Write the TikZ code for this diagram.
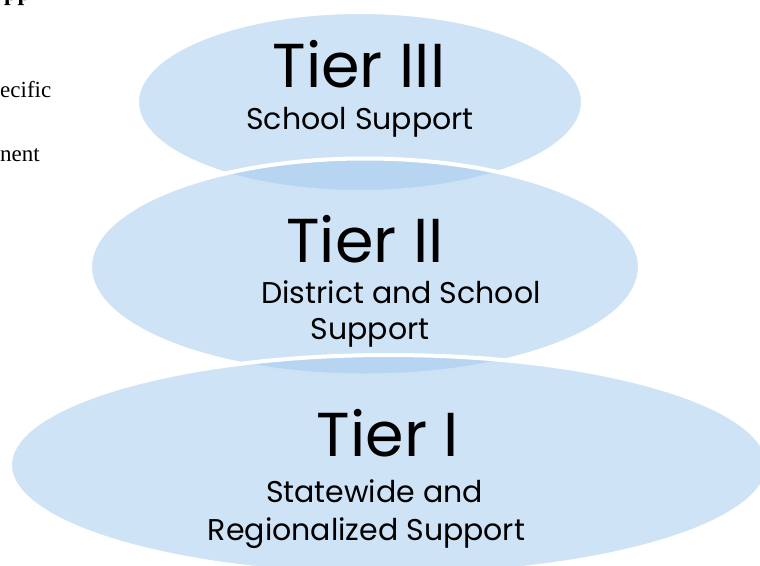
\documentclass[tikz,border=0pt]{standalone}
\usepackage{fontspec}
\setmainfont{Poppins}
\newfontfamily\serifside{Liberation Serif}
\usetikzlibrary{shapes.geometric}
\definecolor{tierblue}{RGB}{159,199,237}
\tikzset{
  tierell/.style={ellipse, inner sep=0pt, fill=tierblue, fill opacity=0.5, draw=white, draw opacity=1, line width=4pt},
  titletxt/.style={anchor=base, inner sep=0pt, font=\fontsize{62}{62}\selectfont},
  subtxt/.style={anchor=base, inner sep=0pt, font=\fontsize{30}{30}\selectfont},
  sidetxt/.style={anchor=base west, inner sep=0pt, font=\serifside\fontsize{23}{23}\selectfont},
}
\begin{document}
\begin{tikzpicture}[x=1pt,y=-1pt]
\useasboundingbox (0,0) rectangle (760,565);
% ellipses
\node[tierell, minimum width=446pt, minimum height=180pt] (t3) at (360,102) {};
\node[tierell, minimum width=550pt, minimum height=217pt] (t2) at (365,267) {};
\node[tierell, minimum width=758pt, minimum height=220pt] (t1) at (389,465) {};
% texts
\node[titletxt] (h3) at (359,87) {Tier III};
\node[subtxt] (s3) at (360,129) {School Support};
\node[titletxt] (h2) at (365,262) {Tier II};
\node[subtxt] (s2a) at (401,303) {District and School};
\node[subtxt] (s2b) at (370,339) {Support};
\node[titletxt] (h1) at (388,456) {Tier I};
\node[subtxt] (s1a) at (374.5,502) {Statewide and};
\node[subtxt] (s1b) at (366.5,540) {Regionalized Support};
% cut-off side text
\node[sidetxt, font=\serifside\bfseries\fontsize{24}{24}\selectfont] (sp) at (4,0) {pp};
\node[sidetxt] (se) at (0,97) {ecific};
\node[sidetxt] (sn) at (0,161) {nent};
\end{tikzpicture}
\end{document}
